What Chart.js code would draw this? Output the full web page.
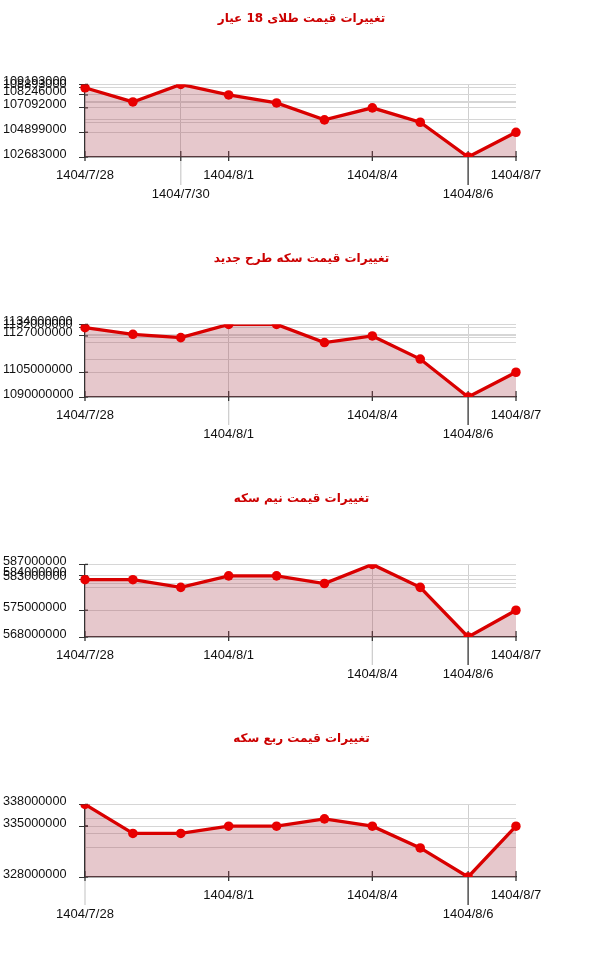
<!DOCTYPE html>
<html>
<head>
<meta charset="utf-8">
<script src="https://cdn.jsdelivr.net/npm/chart.js@4.4.1/dist/chart.umd.min.js"></script>
<style>
  body { margin: 0; background: #fff; }
  .panel { width: 600px; height: 240px; }
</style>
</head>
<body>
<div class="panel"><canvas id="gold18" width="600" height="240"></canvas></div>
<div class="panel"><canvas id="coinNew" width="600" height="240"></canvas></div>
<div class="panel"><canvas id="halfCoin" width="600" height="240"></canvas></div>
<div class="panel"><canvas id="quarterCoin" width="600" height="240"></canvas></div>
<script>
// dates shared by all four charts
const dates = ['1404/7/28', '1404/7/29', '1404/7/30', '1404/8/1', '1404/8/2',
               '1404/8/3', '1404/8/4', '1404/8/5', '1404/8/6', '1404/8/7'];

// price series (rial)
const gold18Prices = [108893000, 107620000, 109193000, 108246000, 107530000,
                      106010000, 107092000, 105800000, 102683000, 104899000];
const coinNewPrices = [1132000000, 1128000000, 1126000000, 1134000000, 1134000000,
                       1123000000, 1127000000, 1113000000, 1090000000, 1105000000];
const halfCoinPrices = [583000000, 583000000, 581000000, 584000000, 584000000,
                        582000000, 587000000, 581000000, 568000000, 575000000];
const quarterCoinPrices = [338000000, 334000000, 334000000, 335000000, 335000000,
                           336000000, 335000000, 332000000, 328000000, 335000000];

// titles
const gold18Title = 'تغییرات قیمت طلای 18 عیار';
const coinNewTitle = 'تغییرات قیمت سکه طرح جدید';
const halfCoinTitle = 'تغییرات قیمت نیم سکه';
const quarterCoinTitle = 'تغییرات قیمت ربع سکه';

// dates that get an x label, and which of them sit on the second row
const gold18LabelDates = ['1404/7/28', '1404/7/30', '1404/8/1', '1404/8/4', '1404/8/6', '1404/8/7'];
const gold18LowerDates = ['1404/7/30', '1404/8/6'];
const coinNewLabelDates = ['1404/7/28', '1404/8/1', '1404/8/4', '1404/8/6', '1404/8/7'];
const coinNewLowerDates = ['1404/8/1', '1404/8/6'];
const halfCoinLabelDates = ['1404/7/28', '1404/8/1', '1404/8/4', '1404/8/6', '1404/8/7'];
const halfCoinLowerDates = ['1404/8/4', '1404/8/6'];
const quarterCoinLabelDates = ['1404/7/28', '1404/8/1', '1404/8/4', '1404/8/6', '1404/8/7'];
const quarterCoinLowerDates = ['1404/7/28', '1404/8/6'];

const AXIS_COLOR = '#333';
const GRID_COLOR = '#d6d6d6';
const STEM_LIGHT = '#cfcfcf';
const TICK_FONT = { family: "'Liberation Sans', Arial, sans-serif", size: 12.7 };

/**
 * Draws the x tick marks crossing the axis and the long stems
 * down to the second-row labels
 */
const stemPlugin = {
  id: 'stems',
  beforeDatasetsDraw(chart) {
    const cfg = chart.options.plugins.stems;
    const { ctx, chartArea } = chart;
    const x = chart.scales.x;
    const y = chart.scales.y;
    const bottom = chartArea.bottom;
    ctx.save();
    ctx.lineWidth = 1.3;
    ctx.strokeStyle = AXIS_COLOR;
    // y ticks poke a little into the plot
    cfg.labelValues.forEach((v) => {
      const py = y.getPixelForValue(v);
      ctx.beginPath();
      ctx.moveTo(chartArea.left, py);
      ctx.lineTo(chartArea.left + 3, py);
      ctx.stroke();
    });
    cfg.shown.forEach((i) => {
      const px = x.getPixelForValue(i);
      ctx.strokeStyle = AXIS_COLOR;
      ctx.beginPath();
      ctx.moveTo(px, bottom - 6);
      ctx.lineTo(px, bottom + 4);
      ctx.stroke();
      if (cfg.lower.includes(i)) {
        ctx.strokeStyle = i === cfg.minIndex ? AXIS_COLOR : STEM_LIGHT;
        ctx.beginPath();
        ctx.moveTo(px, bottom + 4);
        ctx.lineTo(px, bottom + 28);
        ctx.stroke();
      }
    });
    ctx.restore();
  },
};

function priceChart(canvasId, title, values, labelDates, lowerDates) {
  const shown = labelDates.map((d) => dates.indexOf(d));
  const lower = lowerDates.map((d) => dates.indexOf(d));
  const labelValues = shown.map((i) => values[i]);
  const gridValues = [...new Set(values)].sort((a, b) => a - b);
  const minValue = Math.min(...values);
  const maxValue = Math.max(...values);

  return new Chart(document.getElementById(canvasId), {
    type: 'line',
    data: {
      labels: dates,
      datasets: [{
        data: values,
        yAxisID: 'y',
        borderColor: '#d90000',
        borderWidth: 3.3,
        backgroundColor: 'rgba(172, 72, 85, 0.3)',
        fill: 'origin',
        tension: 0,
        pointRadius: 4.8,
        pointBackgroundColor: '#e80000',
        pointBorderColor: '#e80000',
        pointBorderWidth: 0,
      }],
    },
    options: {
      responsive: false,
      animation: false,
      layout: {
        padding: { left: 3, right: 0, top: 0, bottom: 0 },
      },
      plugins: {
        legend: { display: false },
        tooltip: { enabled: false },
        title: {
          display: true,
          text: title,
          color: '#cc0000',
          font: { family: "'DejaVu Sans', sans-serif", size: 12, weight: 'bold', lineHeight: 1.2 },
          padding: { top: 12, bottom: 58 },
        },
        stems: {
          shown: shown,
          lower: lower,
          labelValues: labelValues,
          minIndex: values.indexOf(minValue),
        },
      },
      scales: {
        x: {
          type: 'category',
          offset: false,
          afterFit(scale) { scale.height = 83; },
          border: { display: true, color: AXIS_COLOR, width: 1.3 },
          grid: {
            drawTicks: true,
            tickLength: 4,
            color: (ctx) => (lower.includes(ctx.index) ? STEM_LIGHT : 'transparent'),
            tickColor: 'transparent',
          },
          ticks: {
            autoSkip: false,
            maxRotation: 0,
            padding: 5,
            color: '#111',
            font: { ...TICK_FONT, size: 13, lineHeight: 1.46 },
            callback(value, index) {
              if (!shown.includes(index)) return '';
              const label = this.getLabelForValue(value);
              return lower.includes(index) ? ['', label] : label;
            },
          },
        },
        y: {
          type: 'linear',
          position: 'left',
          min: minValue,
          max: maxValue,
          afterBuildTicks(scale) {
            scale.ticks = gridValues.map((v) => ({ value: v }));
          },
          afterFit(scale) { scale.width = 82; },
          border: { display: true, color: AXIS_COLOR, width: 1.3 },
          grid: {
            drawTicks: true,
            tickLength: 6,
            color: GRID_COLOR,
            tickColor: (ctx) => (ctx.tick && labelValues.includes(ctx.tick.value) ? AXIS_COLOR : 'transparent'),
          },
          ticks: {
            autoSkip: false,
            crossAlign: 'far',
            labelOffset: -3,
            color: '#111',
            font: TICK_FONT,
            callback(value) {
              return labelValues.includes(value) ? String(value) : '';
            },
          },
        },
        // empty right-hand gutter so the title centres on the whole panel
        gutter: {
          type: 'linear',
          position: 'right',
          display: true,
          afterFit(scale) { scale.width = 84; },
          border: { display: false },
          grid: { display: false },
          ticks: { display: false },
        },
      },
    },
    plugins: [stemPlugin],
  });
}

priceChart('gold18', gold18Title, gold18Prices, gold18LabelDates, gold18LowerDates);
priceChart('coinNew', coinNewTitle, coinNewPrices, coinNewLabelDates, coinNewLowerDates);
priceChart('halfCoin', halfCoinTitle, halfCoinPrices, halfCoinLabelDates, halfCoinLowerDates);
priceChart('quarterCoin', quarterCoinTitle, quarterCoinPrices, quarterCoinLabelDates, quarterCoinLowerDates);
</script>
</body>
</html>
